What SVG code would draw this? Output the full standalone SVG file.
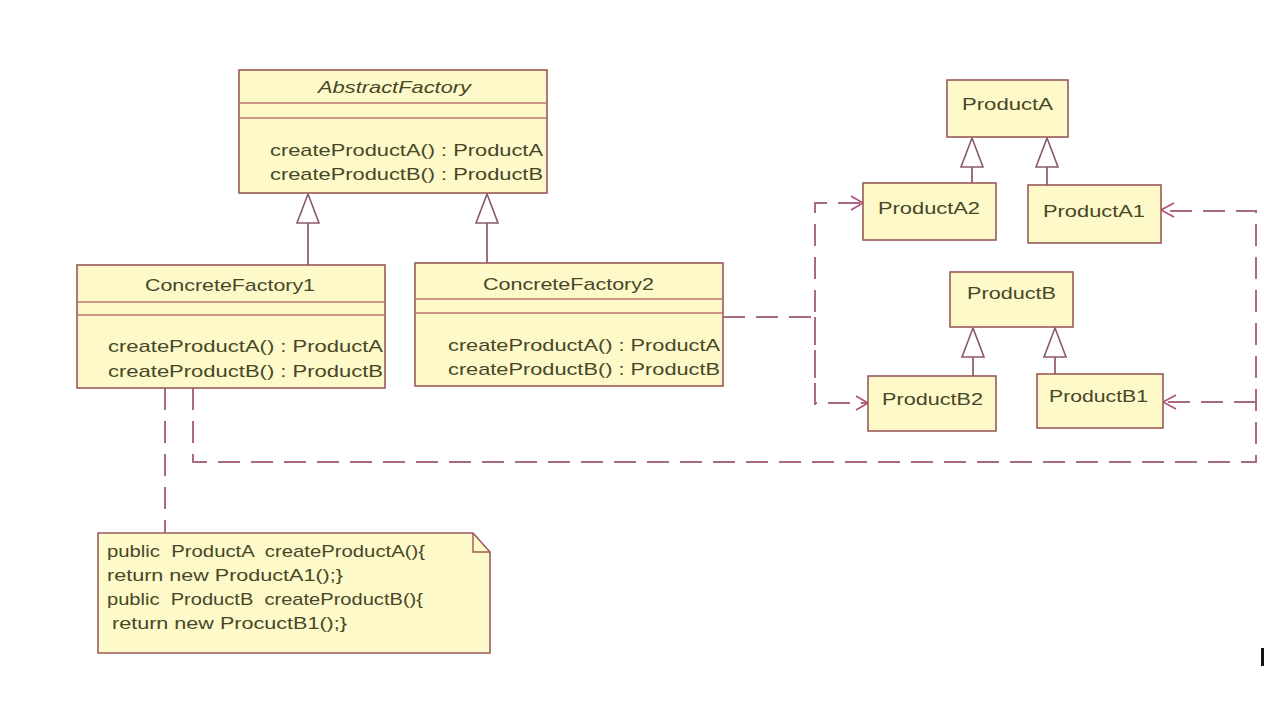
<svg xmlns="http://www.w3.org/2000/svg" width="1264" height="708" viewBox="0 0 1264 708">
<style>
.box{fill:#fdf9c9;stroke:#9a5a5a;stroke-width:1.6}
.sep{stroke:#c07070;stroke-width:1.4}
.t{font-family:"Liberation Sans",Arial,sans-serif;fill:#474728;font-size:17px}
.n{font-family:"Liberation Sans",Arial,sans-serif;fill:#474728;font-size:17px;text-anchor:start;white-space:pre}
.dash{fill:none;stroke:#a86a84;stroke-width:2;stroke-dasharray:22 11}
.solid{fill:none;stroke:#8a4a5a;stroke-width:1.6}
.tri{fill:#ffffff;stroke:#8a5a6a;stroke-width:1.6}
.open{fill:none;stroke:#b0507a;stroke-width:1.6}
</style>
<rect width="1264" height="708" fill="#ffffff"/>

<g id="connectors">
  <line class="solid" x1="308" y1="223" x2="308" y2="265"/>
  <polygon class="tri" points="308,194 297,223 319,223"/>
  <line class="solid" x1="487" y1="223" x2="487" y2="263"/>
  <polygon class="tri" points="487,194 476,223 498,223"/>
  <line class="solid" x1="972" y1="167" x2="972" y2="183"/>
  <polygon class="tri" points="972,138 961,167 983,167"/>
  <line class="solid" x1="1047" y1="167" x2="1047" y2="185"/>
  <polygon class="tri" points="1047,138 1036,167 1058,167"/>
  <line class="solid" x1="973" y1="357" x2="973" y2="376"/>
  <polygon class="tri" points="973,328 962,357 984,357"/>
  <line class="solid" x1="1055" y1="357" x2="1055" y2="374"/>
  <polygon class="tri" points="1055,328 1044,357 1066,357"/>
  <path class="dash" d="M723,317 H815"/>
  <path class="dash" d="M815,405 V203 H863" stroke-dashoffset="6"/>
  <path class="dash" d="M815,317 V403 H868"/>
  <path class="open" d="M851,196 L863,203 L851,210"/>
  <path class="open" d="M856,396 L868,403 L856,410"/>
  <path class="dash" d="M193,388 V462 H1256 V211 H1161"/>
  <path class="dash" d="M1256,402 H1163"/>
  <path class="open" d="M1174,203 L1161,210 L1174,217"/>
  <path class="open" d="M1176,395 L1163,402 L1176,409"/>
  <path class="dash" d="M165,388 V533" stroke="#7a5a6a"/>
</g>

<g id="AbstractFactory">
  <rect class="box" x="239" y="70" width="308" height="123"/>
  <line class="sep" x1="239" y1="103" x2="547" y2="103"/>
  <line class="sep" x1="239" y1="118" x2="547" y2="118"/>
  <text class="t" x="318" y="93" font-style="italic" textLength="153" lengthAdjust="spacingAndGlyphs">AbstractFactory</text>
  <text class="t" x="270" y="156" textLength="273" lengthAdjust="spacingAndGlyphs">createProductA() : ProductA</text>
  <text class="t" x="270" y="180" textLength="273" lengthAdjust="spacingAndGlyphs">createProductB() : ProductB</text>
</g>

<g id="ConcreteFactory1">
  <rect class="box" x="77" y="265" width="308" height="123"/>
  <line class="sep" x1="77" y1="302" x2="385" y2="302"/>
  <line class="sep" x1="77" y1="315" x2="385" y2="315"/>
  <text class="t" x="145" y="291" textLength="170" lengthAdjust="spacingAndGlyphs">ConcreteFactory1</text>
  <text class="t" x="108" y="352" textLength="275" lengthAdjust="spacingAndGlyphs">createProductA() : ProductA</text>
  <text class="t" x="108" y="377" textLength="275" lengthAdjust="spacingAndGlyphs">createProductB() : ProductB</text>
</g>

<g id="ConcreteFactory2">
  <rect class="box" x="415" y="263" width="308" height="123"/>
  <line class="sep" x1="415" y1="299" x2="723" y2="299"/>
  <line class="sep" x1="415" y1="313" x2="723" y2="313"/>
  <text class="t" x="483" y="290" textLength="171" lengthAdjust="spacingAndGlyphs">ConcreteFactory2</text>
  <text class="t" x="448" y="351" textLength="272" lengthAdjust="spacingAndGlyphs">createProductA() : ProductA</text>
  <text class="t" x="448" y="375" textLength="272" lengthAdjust="spacingAndGlyphs">createProductB() : ProductB</text>
</g>

<g id="ProductA">
  <rect class="box" x="947" y="80" width="121" height="57"/>
  <text class="t" x="962" y="110" textLength="91" lengthAdjust="spacingAndGlyphs">ProductA</text>
</g>
<g id="ProductA2">
  <rect class="box" x="863" y="183" width="133" height="57"/>
  <text class="t" x="878" y="214" textLength="102" lengthAdjust="spacingAndGlyphs">ProductA2</text>
</g>
<g id="ProductA1">
  <rect class="box" x="1028" y="185" width="133" height="58"/>
  <text class="t" x="1043" y="217" textLength="102" lengthAdjust="spacingAndGlyphs">ProductA1</text>
</g>
<g id="ProductB">
  <rect class="box" x="950" y="272" width="123" height="55"/>
  <text class="t" x="967" y="299" textLength="89" lengthAdjust="spacingAndGlyphs">ProductB</text>
</g>
<g id="ProductB2">
  <rect class="box" x="868" y="376" width="128" height="55"/>
  <text class="t" x="882" y="405" textLength="101" lengthAdjust="spacingAndGlyphs">ProductB2</text>
</g>
<g id="ProductB1">
  <rect class="box" x="1037" y="374" width="126" height="54"/>
  <text class="t" x="1049" y="402" textLength="99" lengthAdjust="spacingAndGlyphs">ProductB1</text>
</g>

<g id="note">
  <path class="box" d="M98,533 H473 L490,552 V653 H98 Z"/>
  <path fill="none" stroke="#9a5a5a" stroke-width="1.4" d="M473,533 V552 H490"/>
  <text class="n" xml:space="preserve" x="107" y="557" textLength="318" lengthAdjust="spacingAndGlyphs">public  ProductA  createProductA(){</text>
  <text class="n" xml:space="preserve" x="107" y="581" textLength="236" lengthAdjust="spacingAndGlyphs">return new ProductA1();}</text>
  <text class="n" xml:space="preserve" x="107" y="605" textLength="316" lengthAdjust="spacingAndGlyphs">public  ProductB  createProductB(){</text>
  <text class="n" xml:space="preserve" x="112" y="629" textLength="235" lengthAdjust="spacingAndGlyphs">return new ProcuctB1();}</text>
</g>

<rect x="1261" y="648" width="3" height="18" fill="#111111"/>
</svg>
